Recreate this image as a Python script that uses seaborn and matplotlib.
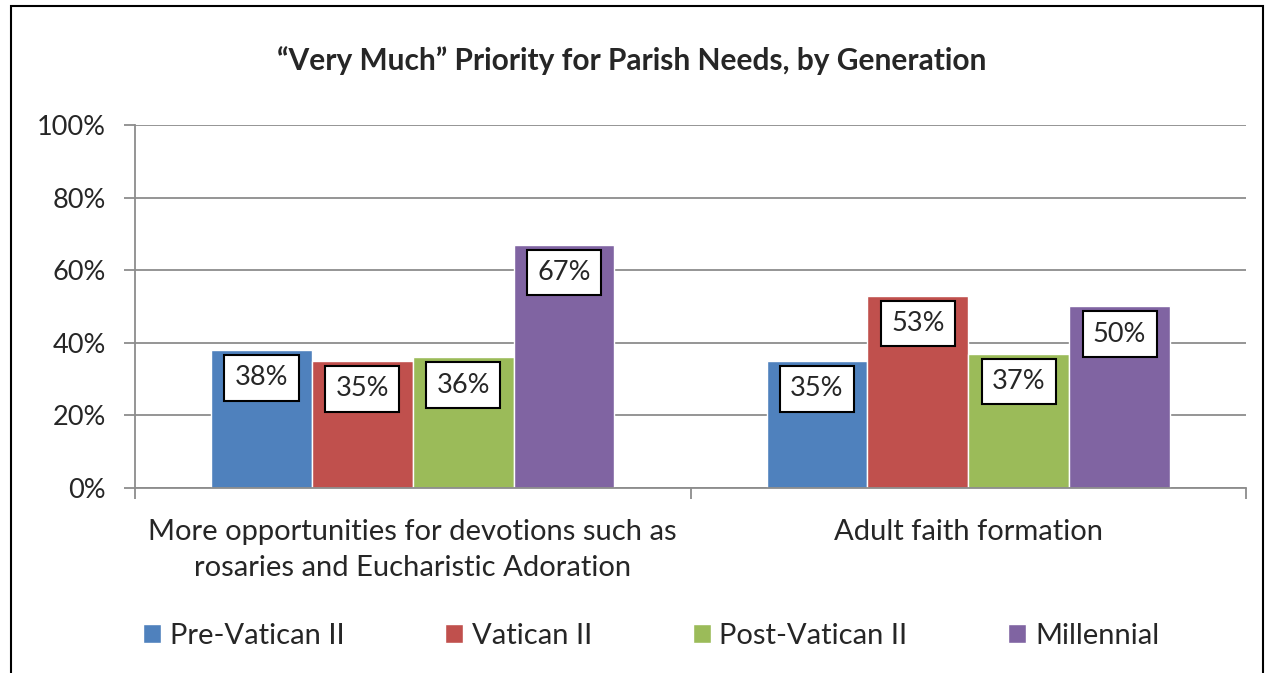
import matplotlib.pyplot as plt
import seaborn as sns
import pandas as pd
from matplotlib.patches import Rectangle
from matplotlib.ticker import FixedLocator

sns.set_theme(style="white")
plt.rcParams['font.family'] = ['Lato', 'DejaVu Sans']

# Dados
categorias = ['More opportunities for devotions such as\nrosaries and Eucharistic Adoration',
              'Adult faith formation']
geracoes = ['Pre-Vatican II', 'Vatican II', 'Post-Vatican II', 'Millennial']
valores = {
    'Pre-Vatican II': [38, 35],
    'Vatican II': [35, 53],
    'Post-Vatican II': [36, 37],
    'Millennial': [67, 50],
}
cores = ['#4F81BD', '#C0504D', '#9BBB59', '#8064A2']

linhas = []
for g in geracoes:
    for c, v in zip(categorias, valores[g]):
        linhas.append({'Categoria': c, 'Geração': g, 'Valor': v})
df = pd.DataFrame(linhas)

fig = plt.figure(figsize=(12.72, 6.73), dpi=100)
ax = fig.add_axes([0.1061, 0.2749, 0.8735, 0.5394])

sns.barplot(data=df, x='Categoria', y='Valor', hue='Geração', hue_order=geracoes,
            palette=cores, width=0.726, gap=0, saturation=1, ax=ax, legend=True)

ax.set_ylim(0, 100)
ax.set_xlim(-0.5, 1.5)
ax.set_yticks(range(0, 101, 20))
ax.set_yticklabels([f'{t}%' for t in range(0, 101, 20)], fontsize=19.5)
ax.yaxis.grid(True, color='#8C8C8C', linewidth=1.3)
ax.set_axisbelow(True)
ax.set_xlabel('')
ax.set_ylabel('')
ax.tick_params(axis='x', which='major', length=0, labelsize=21, pad=22)
for t in ax.get_xticklabels():
    t.set_linespacing(1.5)
ax.xaxis.set_minor_locator(FixedLocator([-0.5, 0.5, 1.5]))
ax.tick_params(axis='x', which='minor', length=8, color='#8C8C8C', width=1.3, direction='out', bottom=True)
ax.tick_params(axis='y', length=8, color='#8C8C8C', width=1.3, direction='out', left=True, pad=13)
for s in ['top', 'right']:
    ax.spines[s].set_visible(False)
for s in ['left', 'bottom']:
    ax.spines[s].set_color('#8C8C8C')
    ax.spines[s].set_linewidth(1.3)

# Rótulos dos valores
for cont in ax.containers:
    for barra in cont:
        h = barra.get_height()
        ax.annotate(f'{h:.0f}%', (barra.get_x() + barra.get_width() / 2, h),
                    xytext=(0, -11), textcoords='offset points', ha='center', va='top',
                    fontsize=19.5,
                    bbox=dict(boxstyle='square,pad=0.38', fc='white', ec='black', lw=1.5))

fig.suptitle('“Very Much” Priority for Parish Needs, by Generation',
             fontsize=21.5, fontweight='bold', x=0.497, y=0.91, va='center')

ax.get_legend().remove()
leg = fig.legend(*ax.get_legend_handles_labels(), loc='center', bbox_to_anchor=(651 / 1272, 37 / 673),
                 ncol=4, frameon=False, fontsize=21, handlelength=0.62, handleheight=0.62,
                 handletextpad=0.3, columnspacing=3.45)

fig.patches.append(Rectangle((11 / 1272, -0.05), 1252 / 1272, 1.041, transform=fig.transFigure,
                             fill=False, ec='black', lw=1.5))

plt.savefig('out.png', dpi=100)
